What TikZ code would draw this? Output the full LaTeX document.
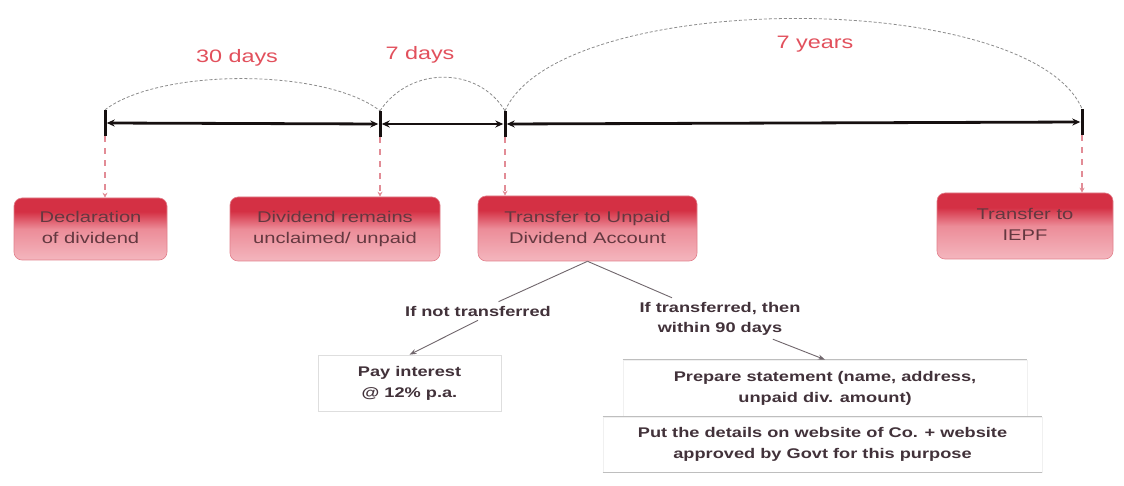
\documentclass[tikz,border=0pt]{standalone}
\usepackage{fontspec}
\setmainfont[FakeStretch=1.3]{Liberation Sans}
\usetikzlibrary{arrows.meta}

\definecolor{evred}{RGB}{212,48,68}
\definecolor{evpink}{RGB}{236,140,152}
\definecolor{evpale}{RGB}{244,182,190}
\definecolor{evedge}{RGB}{226,128,140}
\definecolor{evtext}{RGB}{100,56,64}
\definecolor{spanred}{RGB}{226,80,92}
\definecolor{spangray}{RGB}{140,140,140}
\definecolor{droppink}{RGB}{226,140,150}
\definecolor{axisblack}{RGB}{22,16,16}
\definecolor{notetext}{RGB}{66,50,58}
\definecolor{branchgray}{RGB}{112,102,108}
\definecolor{boxline}{RGB}{222,222,222}
\definecolor{ruleline}{RGB}{190,190,190}

% red band on top fading into pale pink (path maps to 25bp..75bp)
\pgfdeclareverticalshading{evshade}{100bp}{%
  color(0bp)=(evpale); color(25bp)=(evpale); color(50bp)=(evpink);
  color(64bp)=(evred); color(75bp)=(evred); color(100bp)=(evred)}

% lift a two-line label a little above the box centre
\newcommand{\liftup}[1]{\raisebox{4pt}{\begin{tabular}{@{}c@{}}#1\end{tabular}}}

\tikzset{
  evbox/.style={rounded corners=8pt, shading=evshade, draw=evedge,
    line width=0.6pt, align=center, text=evtext, inner sep=2pt,
    font=\fontsize{15.5}{21}\selectfont},
  tickbar/.style={fill=axisblack, inner sep=0pt, minimum width=3pt,
    minimum height=26pt},
  axisline/.style={line width=2.8pt, draw=axisblack,
    {Stealth[length=8pt,width=7pt]}-{Stealth[length=8pt,width=7pt]}},
  span/.style={draw=spangray, line width=0.8pt, dash pattern=on 3pt off 2pt},
  spanlbl/.style={text=spanred, font=\fontsize{18}{20}\selectfont, inner sep=2pt},
  drop/.style={draw=droppink, line width=1.5pt, dash pattern=on 6pt off 6pt,
    -{Stealth[length=5pt,width=5pt]}},
  note/.style={text=notetext, font=\bfseries\fontsize{14}{20}\selectfont,
    align=center, inner sep=4pt},
  plainbox/.style={draw=boxline, line width=0.7pt, fill=white, align=center,
    text=notetext, font=\bfseries\fontsize{14}{21}\selectfont},
  branch/.style={draw=branchgray, line width=0.9pt},
  branchtip/.style={branch, -{Stealth[length=7pt,width=5pt]}},
  rule/.style={draw=ruleline, line width=0.8pt}
}

\begin{document}
\begin{tikzpicture}[x=1pt, y=-1pt]
\fill[white] (0,0) rectangle (1124,486);
\useasboundingbox (0,0) rectangle (1124,486);

% time axis and its tick marks
\node[tickbar] (k0) at (105,123) {};
\node[tickbar] (k1) at (380,124) {};
\node[tickbar] (k2) at (505,124) {};
\node[tickbar] (k3) at (1082,122) {};
\draw[axisline] (k0) -- (k1);
\draw[axisline] (k1) -- (k2);
\draw[axisline] (k2) -- (k3);

% period arcs above the axis
\draw[span] (k0.north) .. controls (160,68) and (325,68) .. (k1.north);
\draw[span] (k1.north) .. controls (410,66) and (478,66) .. (k2.north);
\draw[span] (k2.north) .. controls (560,-12) and (1030,-12) .. (k3.north);
\node[spanlbl] (p30) at (237,58) {30 days};
\node[spanlbl] (p7d) at (420,55) {7 days};
\node[spanlbl] (p7y) at (815,44) {7 years};

% events
\node[evbox, minimum width=153pt, minimum height=62pt] (decl) at (90.5,229)
  {\liftup{Declaration\\of dividend}};
\node[evbox, minimum width=210pt, minimum height=64pt] (uncl) at (335,229)
  {\liftup{Dividend remains\\unclaimed/ unpaid}};
\node[evbox, minimum width=219pt, minimum height=65pt] (uda) at (587.5,228.5)
  {\liftup{Transfer to Unpaid\\Dividend Account}};
\node[evbox, minimum width=176pt, minimum height=66pt] (iepf) at (1025,226)
  {\liftup{Transfer to\\IEPF}};

% drops from the ticks to the events
\draw[drop] (k0.south) -- (decl.north -| k0);
\draw[drop] (k1.south) -- (uncl.north -| k1);
\draw[drop] (k2.south) -- (uda.north -| k2);
\draw[drop] (k3.south) -- (iepf.north -| k3);

% branches below the unpaid dividend account
\node[note] (lblA) at (478,311) {If not transferred};
\node[note] (lblB) at (720,318.5) {If transferred, then\\within 90 days};

\node[plainbox, minimum width=183pt, minimum height=56pt] (pay) at (409.5,383)
  {Pay interest\\@ 12\% p.a.};
\node[plainbox, draw=white!94!black, minimum width=404pt, minimum height=57pt] (prep) at (825,388.5)
  {Prepare statement (name, address,\\unpaid div. amount)};
\node[plainbox, draw=white!94!black, minimum width=439pt, minimum height=55pt] (put) at (822.5,444.5)
  {Put the details on website of Co. + website\\approved by Govt for this purpose};
\draw[rule] (prep.north west) -- (prep.north east);
\draw[rule] (put.north west) -- (put.north east);
\draw[rule] (put.south west) -- (put.south east);

\draw[branch] (uda.south) -- (lblA);
\draw[branchtip] (lblA.south) -- (pay.north);
\draw[branch] (uda.south) -- (lblB);
\draw[branchtip] (lblB) -- (prep.north);
\end{tikzpicture}
\end{document}
